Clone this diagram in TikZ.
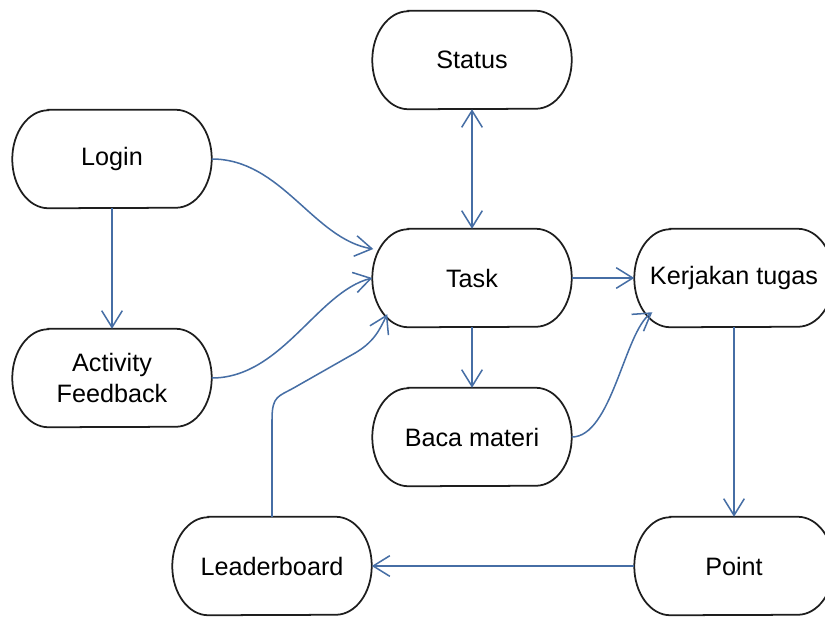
\documentclass[tikz,border=0pt]{standalone}
\usepackage{fontspec}
\setmainfont{Liberation Sans}
\usetikzlibrary{arrows.meta}

\definecolor{flowblue}{RGB}{70,110,165}
\definecolor{outlinegray}{RGB}{30,30,30}

\tikzset{
  pill/.style={minimum width=5.97cm, minimum height=2.94cm, inner sep=0pt,
    align=center, font=\fontsize{21.5pt}{27pt}\selectfont},
  pilledge/.style={draw=outlinegray, line width=1.5pt},
  flow/.style={draw=flowblue, line width=1.3pt,
    -{Straight Barb[length=0.5cm,width=0.62cm,line width=1.3pt]}},
  flowboth/.style={flow,
    {Straight Barb[length=0.5cm,width=0.62cm,line width=1.3pt]}-{Straight Barb[length=0.5cm,width=0.62cm,line width=1.3pt]}},
}

\begin{document}
\begin{tikzpicture}[x=0.03cm, y=0.03cm]
  \useasboundingbox (0,0) rectangle (825,-616);

  % activity nodes
  \node[pill] (status)   at (472,-60)  {Status};
  \node[pill] (login)    at (112,-159) {Login};
  \node[pill] (task)     at (472,-278) {Task};
  \node[pill] (kerjakan) at (734,-278) {Kerjakan tugas};
  \node[pill] (activity) at (112,-378) {Activity\\Feedback};
  \node[pill] (baca)     at (472,-437) {Baca materi};
  \node[pill] (leader)   at (272,-566) {Leaderboard};
  \node[pill] (point)    at (734,-566) {Point};

  % stadium outlines with elliptical ends
  \foreach \n in {status,login,task,kerjakan,activity,baca,leader,point}{
    \draw[pilledge]
      ([xshift=1.08cm]\n.north west) -- ([xshift=-1.08cm]\n.north east)
      arc[start angle=90, end angle=-90, x radius=1.08cm, y radius=1.47cm]
      -- ([xshift=1.08cm]\n.south west)
      arc[start angle=270, end angle=90, x radius=1.08cm, y radius=1.47cm]
      -- cycle;
  }

  % straight connectors
  \draw[flow] (login.south) -- (activity.north);
  \draw[flowboth] (status.south) -- (task.north);
  \draw[flow] (task.east) -- (kerjakan.west);
  \draw[flow] (task.south) -- (baca.north);
  \draw[flow] (kerjakan.south) -- (point.north);
  \draw[flow] (point.west) -- (leader.east);

  % curved connectors into Task
  \draw[flow] (login.east)
    .. controls +(70,0) and +(-60,10) .. ([shift={(1,29)}]task.west);
  \draw[flow] (activity.east)
    .. controls +(70,0) and +(-55,-14) .. (task.west);
  \draw[flow] (leader.north) -- ++(0,97)
    .. controls +(0,24) and +(-16,-9) .. ++(22,32)
    -- ++(58,33)
    .. controls +(22,12) and +(-8,-16) .. ([shift={(15,13)}]task.south west);

  % Baca materi into Kerjakan tugas
  \draw[flow] (baca.east)
    .. controls +(40,0) and +(-28,-20) .. ([shift={(18,15)}]kerjakan.south west);
\end{tikzpicture}
\end{document}
